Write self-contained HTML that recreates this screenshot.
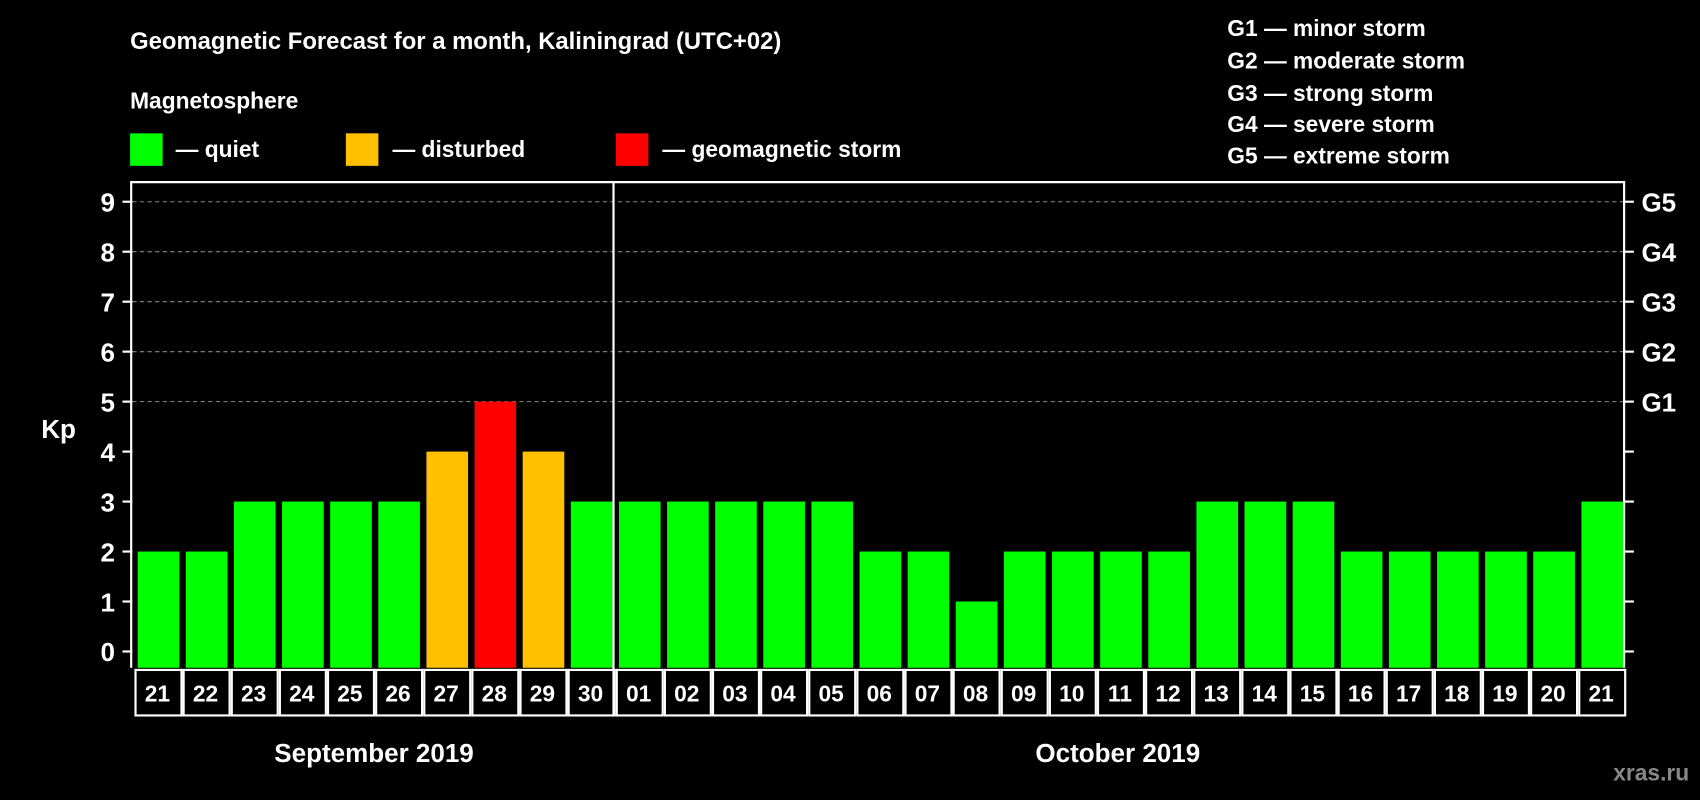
<!DOCTYPE html>
<html><head><meta charset="utf-8"><style>
html,body{margin:0;padding:0;background:#000;width:1700px;height:800px;overflow:hidden}
svg{display:block;font-family:"Liberation Sans",Arial,sans-serif;font-weight:bold}
</style></head><body>
<svg id="chart" width="1700" height="800" viewBox="0 0 1568 738" preserveAspectRatio="none">
<rect width="1568" height="738" fill="#000"/>
<text x="120" y="45" fill="#fff" font-size="22">Geomagnetic Forecast for a month, Kaliningrad (UTC+02)</text>
<text x="120" y="100" fill="#fff" font-size="21">Magnetosphere</text>
<rect x="120" y="123" width="30" height="30" fill="#00ff00"/>
<text x="162" y="145" fill="#fff" font-size="21">— quiet</text>
<rect x="319" y="123" width="30" height="30" fill="#ffc000"/>
<text x="362" y="145" fill="#fff" font-size="21">— disturbed</text>
<rect x="568" y="123" width="30" height="30" fill="#ff0000"/>
<text x="611" y="145" fill="#fff" font-size="21">— geomagnetic storm</text>
<g fill="#fff" font-size="21">
<text x="1132" y="33">G1 — minor storm</text>
<text x="1132" y="63">G2 — moderate storm</text>
<text x="1132" y="93">G3 — strong storm</text>
<text x="1132" y="122">G4 — severe storm</text>
<text x="1132" y="151">G5 — extreme storm</text>
</g>
<text x="38" y="404" fill="#fff" font-size="24">Kp</text>
<text x="345" y="703" fill="#fff" font-size="24" text-anchor="middle">September 2019</text>
<text x="1031" y="703" fill="#fff" font-size="24" text-anchor="middle">October 2019</text>
<text x="1558" y="720" fill="#888" font-size="21" text-anchor="end">xras.ru</text>
<g id="plot"></g>
</svg>
<script>
const days = ["21","22","23","24","25","26","27","28","29","30","01","02","03","04","05","06","07","08","09","10","11","12","13","14","15","16","17","18","19","20","21"];
const kpValues = [2,2,3,3,3,3,4,5,4,3,3,3,3,3,3,2,2,1,2,2,2,2,3,3,3,2,2,2,2,2,3];
const yTicks = [0,1,2,3,4,5,6,7,8,9];
const gLabels = ["","","","","","G1","G2","G3","G4","G5"];
const NS="http://www.w3.org/2000/svg";
const g=document.getElementById('plot');
const L=122,R=1498,T=168,B=616;
const y=v=>601-v*46.1;
const step=(R-L)/days.length;
const x=i=>L+i*step;
function mk(t,a){const e=document.createElementNS(NS,t);for(const k in a)e.setAttribute(k,a[k]);g.appendChild(e);return e;}
yTicks.forEach((v,i)=>{
 if(v>=5){const l=mk('line',{x1:L,x2:R,y1:y(v),y2:y(v),stroke:'#888','stroke-dasharray':'4,3','stroke-width':1});
 
 }
 const t1=mk('line',{x1:113,x2:L,y1:y(v),y2:y(v),stroke:'#fff','stroke-width':2});
 
 
 const t2=mk('line',{x1:R,x2:R+9,y1:y(v),y2:y(v),stroke:'#fff','stroke-width':2});
 
 
 const lb=mk('text',{x:106,y:y(v)+9,fill:'#fff','font-size':24,'text-anchor':'end'});lb.textContent=v;
 
 
 if(gLabels[i]){const gl=mk('text',{x:1514,y:y(v)+9,fill:'#fff','font-size':24});gl.textContent=gLabels[i];
 
 }
});
kpValues.forEach((v,i)=>{
 const c=v>=5?'#ff0000':(v>=4?'#ffc000':'#00ff00');
 const b=mk('rect',{x:x(i)+5,y:y(v),width:step-6,height:y(0)-y(v)+15,fill:c});
 
 
 const bx=mk('rect',{x:x(i)+3,y:618,width:step-2,height:42,fill:'none',stroke:'#fff','stroke-width':2});
 
 
 const t=mk('text',{x:x(i)+step/2+1,y:647,fill:'#fff','font-size':21,'text-anchor':'middle'});t.textContent=days[i];
 
 
});
const fr=mk('path',{d:`M${L-1} ${B} V${T} H${R} V${B}`,fill:'none',stroke:'#fff','stroke-width':2});


const dv=mk('line',{x1:x(10),x2:x(10),y1:T,y2:660,stroke:'#fff','stroke-width':2});


</script>
</body></html>
